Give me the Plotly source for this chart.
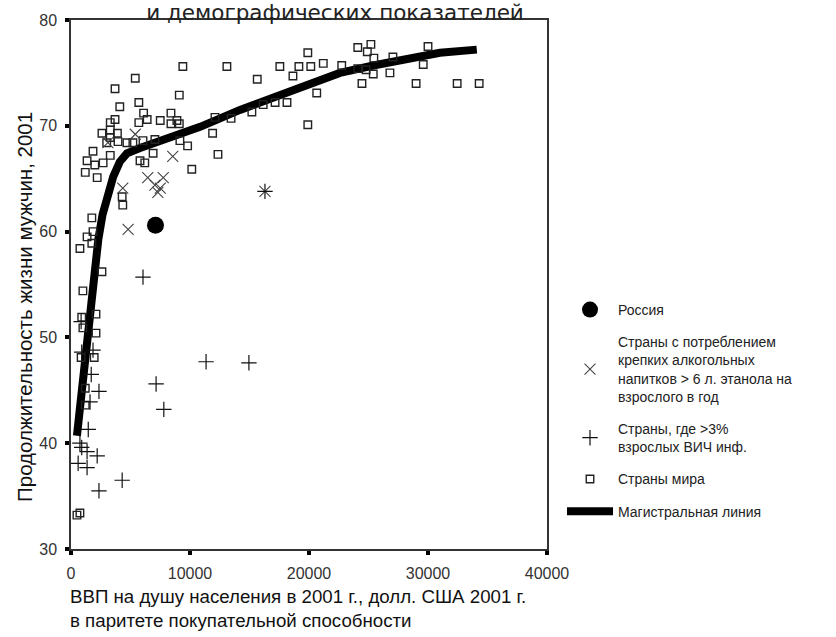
import plotly.graph_objects as go

# ВВП на душу населения (долл. США по ППС, 2001) и продолжительность жизни мужчин
world_gdp = [9400, 13100, 5400, 3700, 9100, 4100, 5700, 6100, 6400, 5700, 7500, 8400, 8900, 8400, 9100,
             3300, 3700, 2600, 3300, 3900, 3300, 3000, 3950, 4700, 5200, 6050, 7050, 1850, 3300, 1350,
             2000, 2700, 1200, 5800, 6200, 2200, 6900, 9800, 9150, 11900, 12350, 10150, 12100, 13450,
             15200, 4300, 4350, 1750, 1850, 1350, 750, 1750, 2600, 1000, 2100, 900, 1000, 2100, 850,
             1950, 1200, 1200, 500, 750, 15650, 17550, 18650, 19150, 19900, 20150, 21200, 20650, 22750,
             19900, 24100, 25200, 24900, 25450, 24100, 24800, 25400, 24450, 27050, 26800, 29600, 30000,
             29000, 32450, 34300, 18150, 17150, 16150]
world_le = [75.6, 75.6, 74.5, 73.5, 72.9, 71.8, 72.2, 71.2, 70.6, 70.3, 70.5, 71.2, 70.5, 70.2, 70.2,
            70.3, 70.6, 69.3, 69.6, 69.3, 68.9, 68.4, 68.5, 68.4, 68.4, 68.6, 68.7, 67.6, 67.2, 66.7,
            66.3, 66.5, 65.6, 66.7, 66.5, 65.1, 67.4, 68.1, 68.6, 69.3, 67.3, 65.9, 70.8, 70.7,
            71.3, 63.3, 62.5, 61.3, 60.0, 59.5, 58.4, 58.9, 56.2, 54.4, 52.2, 51.9, 50.9, 50.4, 48.1,
            48.1, 45.2, 43.6, 33.2, 33.4, 74.4, 75.6, 74.7, 75.6, 76.9, 75.6, 75.9, 73.1, 75.7,
            70.1, 77.4, 77.7, 77.0, 76.4, 75.4, 75.3, 74.9, 74.0, 76.5, 75.0, 75.8, 77.5,
            74.0, 74.0, 74.0, 72.2, 72.2, 72.0]

alcohol_gdp = [5400, 3100, 8550, 4350, 6450, 7750, 7050, 7500, 7300, 4800, 16300]
alcohol_le = [69.2, 68.4, 67.1, 64.1, 65.1, 65.1, 64.4, 64.1, 63.7, 60.2, 63.8]

hiv_gdp = [6050, 11350, 14950, 7150, 7800, 2350, 1700, 850, 1850, 900, 1600, 1450, 750, 900, 1350,
           2200, 600, 1350, 4300, 2350, 16300]
hiv_le = [55.7, 47.7, 47.6, 45.6, 43.2, 44.9, 46.5, 51.5, 48.8, 48.6, 43.9, 41.3, 40.0, 39.6, 39.2,
          38.8, 38.1, 37.7, 36.5, 35.5, 63.8]

russia_gdp = [7100]
russia_le = [60.6]

trend_gdp = [500, 650, 800, 950, 1150, 1400, 1700, 2000, 2300, 2650, 3050, 3550, 4100, 4700, 5800,
             7500, 10850, 14200, 17000, 19850, 22600, 25400, 28250, 31000, 34100]
trend_le = [40.7, 42.3, 44.0, 45.8, 48.2, 51.0, 54.0, 56.8, 59.3, 61.6, 63.5, 65.2, 66.6, 67.4, 67.9,
            68.6, 69.9, 71.5, 72.7, 74.0, 75.0, 75.7, 76.4, 76.9, 77.2]

x_ticks = [0, 10000, 20000, 30000, 40000]
y_ticks = [30, 40, 50, 60, 70, 80]

TXT = "Liberation Sans, Arial, sans-serif"

fig = go.Figure()

fig.add_trace(go.Scatter(
    x=trend_gdp, y=trend_le, mode="lines", name="Магистральная линия",
    line=dict(color="black", width=8), legendrank=5, legendgroup="g5"))

fig.add_trace(go.Scatter(
    x=world_gdp, y=world_le, mode="markers", name="Страны мира",
    marker=dict(symbol="square-open", size=7.5, color="#222", line=dict(width=1.4)),
    legendrank=4, legendgroup="g4"))

fig.add_trace(go.Scatter(
    x=alcohol_gdp, y=alcohol_le, mode="markers",
    name="Страны с потреблением<br>крепких алкогольных<br>напитков > 6 л. этанола на<br>взрослого в год",
    marker=dict(symbol="x-thin-open", size=11, color="#444", line=dict(width=1.1, color="#444")),
    legendrank=2, legendgroup="g2"))

fig.add_trace(go.Scatter(
    x=hiv_gdp, y=hiv_le, mode="markers",
    name="Страны, где >3%<br>взрослых ВИЧ инф.",
    marker=dict(symbol="cross-thin-open", size=11, color="#111", line=dict(width=1.2, color="#111")),
    legendrank=3, legendgroup="g3"))

fig.add_trace(go.Scatter(
    x=russia_gdp, y=russia_le, mode="markers", name="Россия",
    marker=dict(symbol="circle", size=17, color="black"),
    legendrank=1, legendgroup="g1"))

axis_common = dict(
    showgrid=False, zeroline=False, showline=True, linecolor="#333", linewidth=1.5,
    mirror=True, ticks="outside", ticklen=4, tickwidth=4, tickcolor="black",
    ticklabelstandoff=5,
    tickfont=dict(family="Liberation Sans Narrow, Liberation Sans, sans-serif", size=16, color="#333"),
)

fig.update_layout(
    width=836, height=637,
    margin=dict(l=71, r=289, t=20, b=88),
    paper_bgcolor="white", plot_bgcolor="white",
    font=dict(family=TXT, color="#111"),
    title=dict(text="и демографических показателей", x=335 / 836, xanchor="center",
               y=1 - 12 / 637, yanchor="middle",
               font=dict(family="DejaVu Sans, sans-serif", size=21.5, color="#222")),
    xaxis=dict(range=[0, 40000], tickvals=x_ticks, ticktext=[str(v) for v in x_ticks], **axis_common),
    yaxis=dict(range=[30, 80], tickvals=y_ticks, ticktext=[str(v) for v in y_ticks], **axis_common),
    legend=dict(x=(562 - 71) / 476, y=(549 - 294) / 529, xanchor="left", yanchor="top",
                font=dict(family=TXT, size=14, color="#222"), itemwidth=46,
                bgcolor="rgba(0,0,0,0)", traceorder="grouped", tracegroupgap=11),
    showlegend=True,
    annotations=[
        dict(text="Продолжительность жизни мужчин, 2001", xref="paper", yref="paper",
             x=-47 / 476, y=(549 - 307) / 529, xanchor="center", yanchor="middle",
             textangle=-90, showarrow=False, font=dict(family=TXT, size=20.5, color="#111")),
        dict(text="ВВП на душу населения в 2001 г., долл. США 2001 г.<br>в паритете покупательной способности",
             xref="paper", yref="paper", x=-3 / 476, y=-(584 - 549) / 529, xanchor="left", yanchor="top",
             align="left", showarrow=False, font=dict(family=TXT, size=18.7, color="#111")),
    ],
)

fig.write_html("out.html")
